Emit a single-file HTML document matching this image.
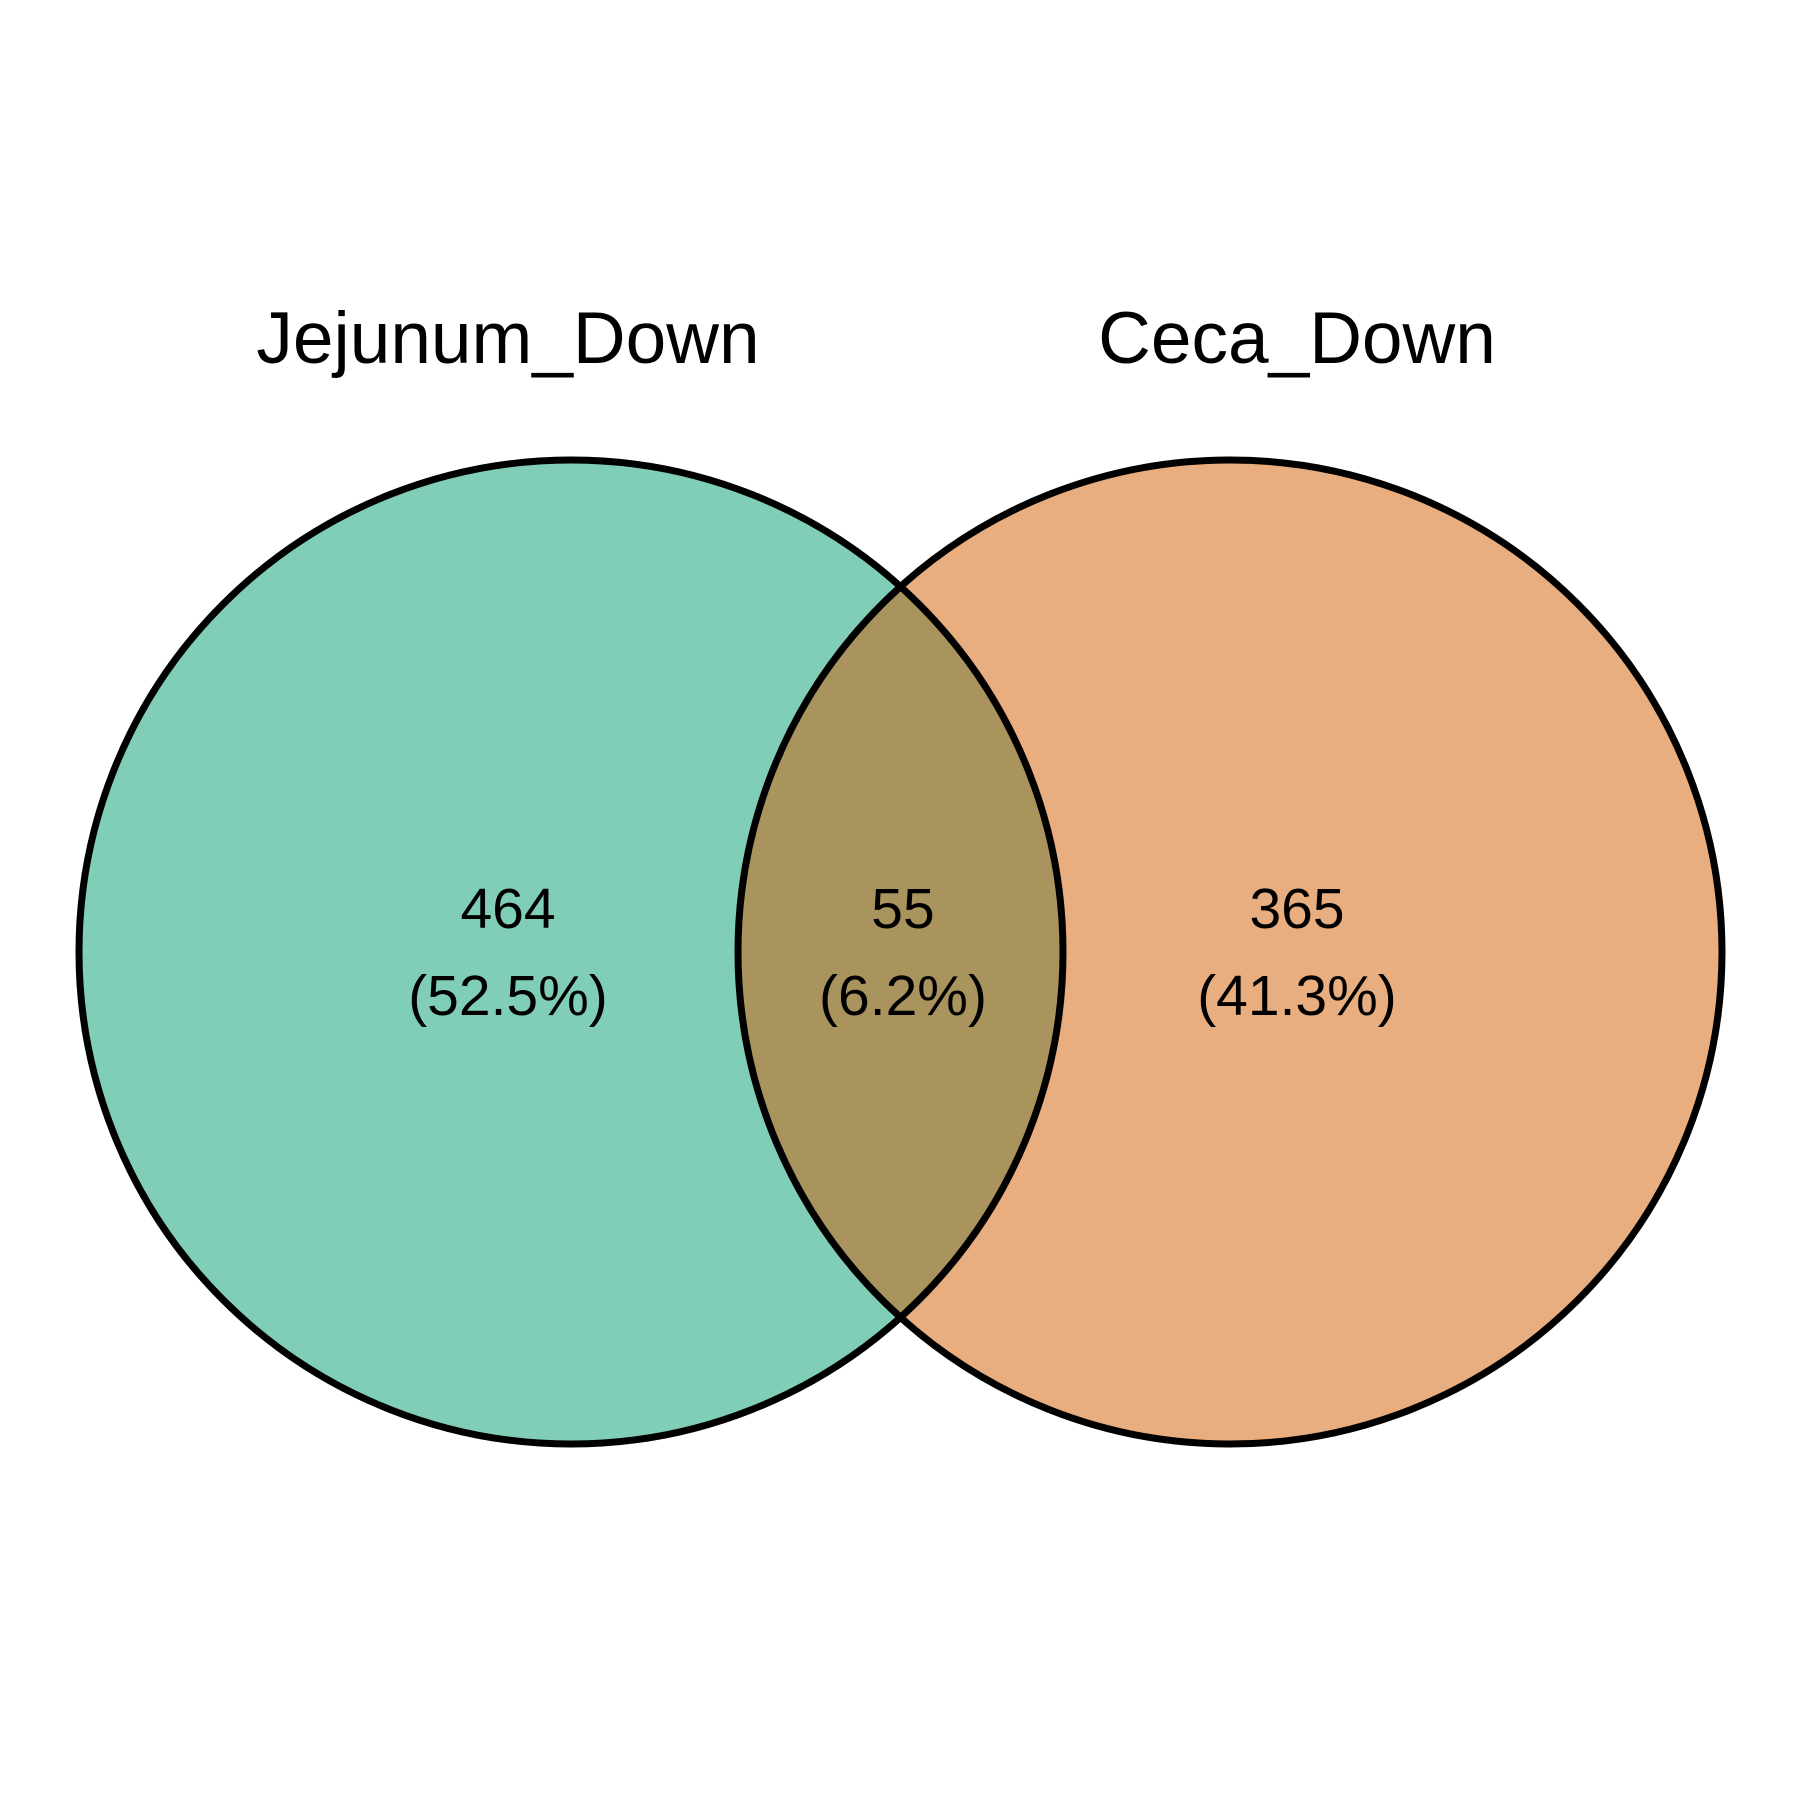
<!DOCTYPE html>
<html><head><meta charset="utf-8"><style>
html,body{margin:0;padding:0;background:#fff;}
svg{display:block;}
text{font-family:"Liberation Sans",sans-serif;fill:#000;}
</style></head><body>
<svg id="venn" width="1800" height="1800" viewBox="0 0 1800 1800">
<defs>
<clipPath id="clipL"><circle cx="571" cy="952" r="492"/></clipPath>
</defs>
<g id="shapes"></g>
<g id="labels"></g>
</svg>
<script>
const setNames = ["Jejunum_Down", "Ceca_Down"];
const regionCounts = [464, 55, 365];
const regionPercents = ["52.5%", "6.2%", "41.3%"];
const ns = "http://www.w3.org/2000/svg";
const cy = 952, r = 492, cxL = 571, cxR = 1230;
const shapes = document.getElementById('shapes');
const labels = document.getElementById('labels');
function mk(tag, attrs, parent){const e=document.createElementNS(ns,tag);for(const k in attrs)e.setAttribute(k,attrs[k]);parent.appendChild(e);return e;}
const cL = mk('circle',{cx:cxL,cy:cy,r:r,fill:'#80CEB8'},shapes);


const cR = mk('circle',{cx:cxR,cy:cy,r:r,fill:'#E9AE7F'},shapes);


const ov = mk('circle',{cx:cxR,cy:cy,r:r,fill:'#AA945D','clip-path':'url(#clipL)'},shapes);


const oL = mk('circle',{cx:cxL,cy:cy,r:r,fill:'none',stroke:'#000','stroke-width':7},shapes);


const oR = mk('circle',{cx:cxR,cy:cy,r:r,fill:'none',stroke:'#000','stroke-width':7},shapes);


const titleX = [508, 1297];
setNames.forEach((n,i)=>{
  const t = mk('text',{x:titleX[i],y:363,'text-anchor':'middle','font-size':73},labels);
  t.textContent = n;
  
  
});
const regX = [508, 903, 1297];
regionCounts.forEach((c,i)=>{
  const t = mk('text',{x:regX[i],y:928,'text-anchor':'middle','font-size':57},labels);
  t.textContent = c;
  
  
  const p = mk('text',{x:regX[i],y:1015,'text-anchor':'middle','font-size':57},labels);
  p.textContent = '(' + regionPercents[i] + ')';
  
  
});
</script>
</body></html>
